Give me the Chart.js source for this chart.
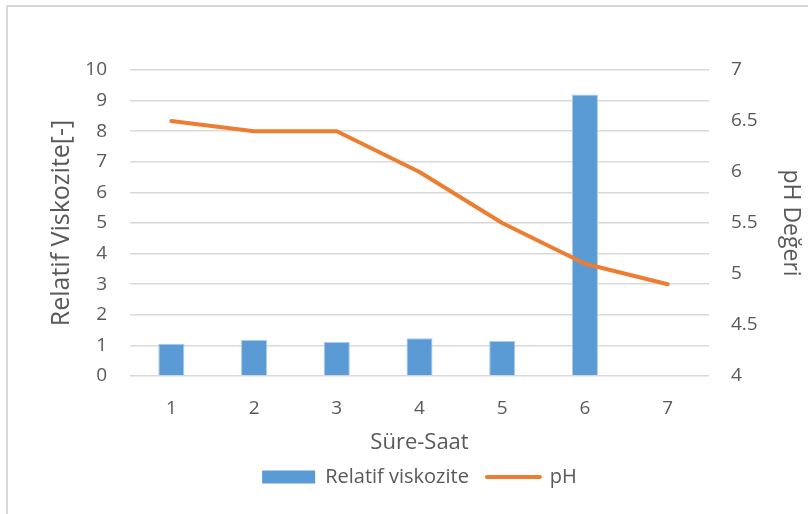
<!DOCTYPE html>
<html>
<head>
<meta charset="utf-8">
<script src="https://cdn.jsdelivr.net/npm/chart.js@4.4.1/dist/chart.umd.min.js"></script>
<style>
  html, body { margin: 0; padding: 0; background: #ffffff; }
  #wrap { width: 808px; height: 514px; position: relative; }
</style>
</head>
<body>
<div id="wrap"><canvas id="c" width="808" height="514"></canvas></div>
<script>
// Hours of the process
const hours = ['1', '2', '3', '4', '5', '6', '7'];
// Relative viscosity per hour (no reading at hour 7)
const relativeViscosity = [1.05, 1.18, 1.11, 1.23, 1.14, 9.2, null];
// pH per hour
const phValues = [6.5, 6.4, 6.4, 6.0, 5.5, 5.1, 4.9];

const leftAxisRange = { min: 0, max: 10, step: 1 };
const rightAxisRange = { min: 4, max: 7, step: 0.5 };

const FONT = "'Open Sans', 'Liberation Sans', sans-serif";
const TEXT = '#595959';
const GRID = '#d9d9d9';

// Light frame round the whole chart
const framePlugin = {
  id: 'frame',
  beforeDraw(chart) {
    const ctx = chart.ctx;
    ctx.save();
    ctx.fillStyle = '#ffffff';
    ctx.fillRect(0, 0, chart.width, chart.height);
    ctx.strokeStyle = GRID;
    ctx.lineWidth = 2;
    ctx.beginPath();
    ctx.moveTo(7, chart.height + 2);
    ctx.lineTo(7, 6);
    ctx.lineTo(chart.width + 2, 6);
    ctx.stroke();
    ctx.restore();
  }
};

new Chart(document.getElementById('c'), {
  data: {
    labels: hours,
    datasets: [
      {
        type: 'line',
        label: 'pH',
        data: phValues,
        yAxisID: 'y1',
        borderColor: '#ED7D31',
        backgroundColor: '#ED7D31',
        borderWidth: 4,
        borderCapStyle: 'round',
        borderJoinStyle: 'round',
        pointRadius: 0,
        pointHoverRadius: 0,
        tension: 0,
        order: 1,
        pointStyle: 'line'
      },
      {
        type: 'bar',
        label: 'Relatif viskozite',
        data: relativeViscosity,
        yAxisID: 'y',
        backgroundColor: '#5B9BD5',
        borderColor: '#A9CBEA',
        borderWidth: 1,
        categoryPercentage: 1,
        barPercentage: 0.315,
        order: 2,
        pointStyle: 'rect'
      }
    ]
  },
  options: {
    responsive: false,
    animation: false,
    events: [],
    layout: { padding: { top: 70, bottom: 17, left: 40, right: 0 } },
    plugins: {
      tooltip: { enabled: false },
      legend: {
        position: 'bottom',
        fullSize: false,
        reverse: true,
        labels: {
          usePointStyle: true,
          pointStyleWidth: 53,
          boxHeight: 13,
          padding: 18,
          color: TEXT,
          font: { family: FONT, size: 20 },
          generateLabels(chart) {
            return chart.data.datasets.map((ds, i) => ({
              text: ds.label,
              fillStyle: ds.backgroundColor,
              strokeStyle: ds.type === 'line' ? ds.borderColor : ds.backgroundColor,
              lineWidth: ds.type === 'line' ? 4 : 0,
              lineCap: 'round',
              pointStyle: ds.pointStyle,
              hidden: false,
              datasetIndex: i,
              fontColor: TEXT
            }));
          }
        }
      }
    },
    scales: {
      x: {
        offset: true,
        grid: { display: false },
        border: { display: false },
        ticks: { color: TEXT, font: { family: FONT, size: 19 }, padding: 13 },
        title: {
          display: true, text: 'Süre-Saat', color: TEXT,
          font: { family: FONT, size: 22 }, padding: { top: 0, bottom: -7 }
        },
        afterFit(scale) { scale.height = 73; }
      },
      y: {
        position: 'left',
        min: leftAxisRange.min, max: leftAxisRange.max,
        ticks: { stepSize: leftAxisRange.step, color: TEXT, font: { family: FONT, size: 19 }, padding: 23 },
        grid: { color: GRID, lineWidth: 1.5, drawTicks: false },
        border: { display: false },
        title: {
          display: true, text: 'Relatif Viskozite[-]', color: TEXT,
          font: { family: FONT, size: 25 }, padding: { top: 7, bottom: 0 }
        },
        afterFit(scale) { scale.width = 90; }
      },
      y1: {
        position: 'right',
        min: rightAxisRange.min, max: rightAxisRange.max,
        ticks: {
          stepSize: rightAxisRange.step, color: TEXT, font: { family: FONT, size: 19 }, padding: 22,
          callback: (v) => String(v)
        },
        grid: { display: false, drawTicks: false },
        border: { display: false },
        title: {
          display: true, text: 'pH Değeri', color: TEXT,
          font: { family: FONT, size: 23 }, padding: { top: 4, bottom: 0 }
        },
        afterFit(scale) { scale.width = 99; }
      }
    }
  },
  plugins: [framePlugin]
});
</script>
</body>
</html>
